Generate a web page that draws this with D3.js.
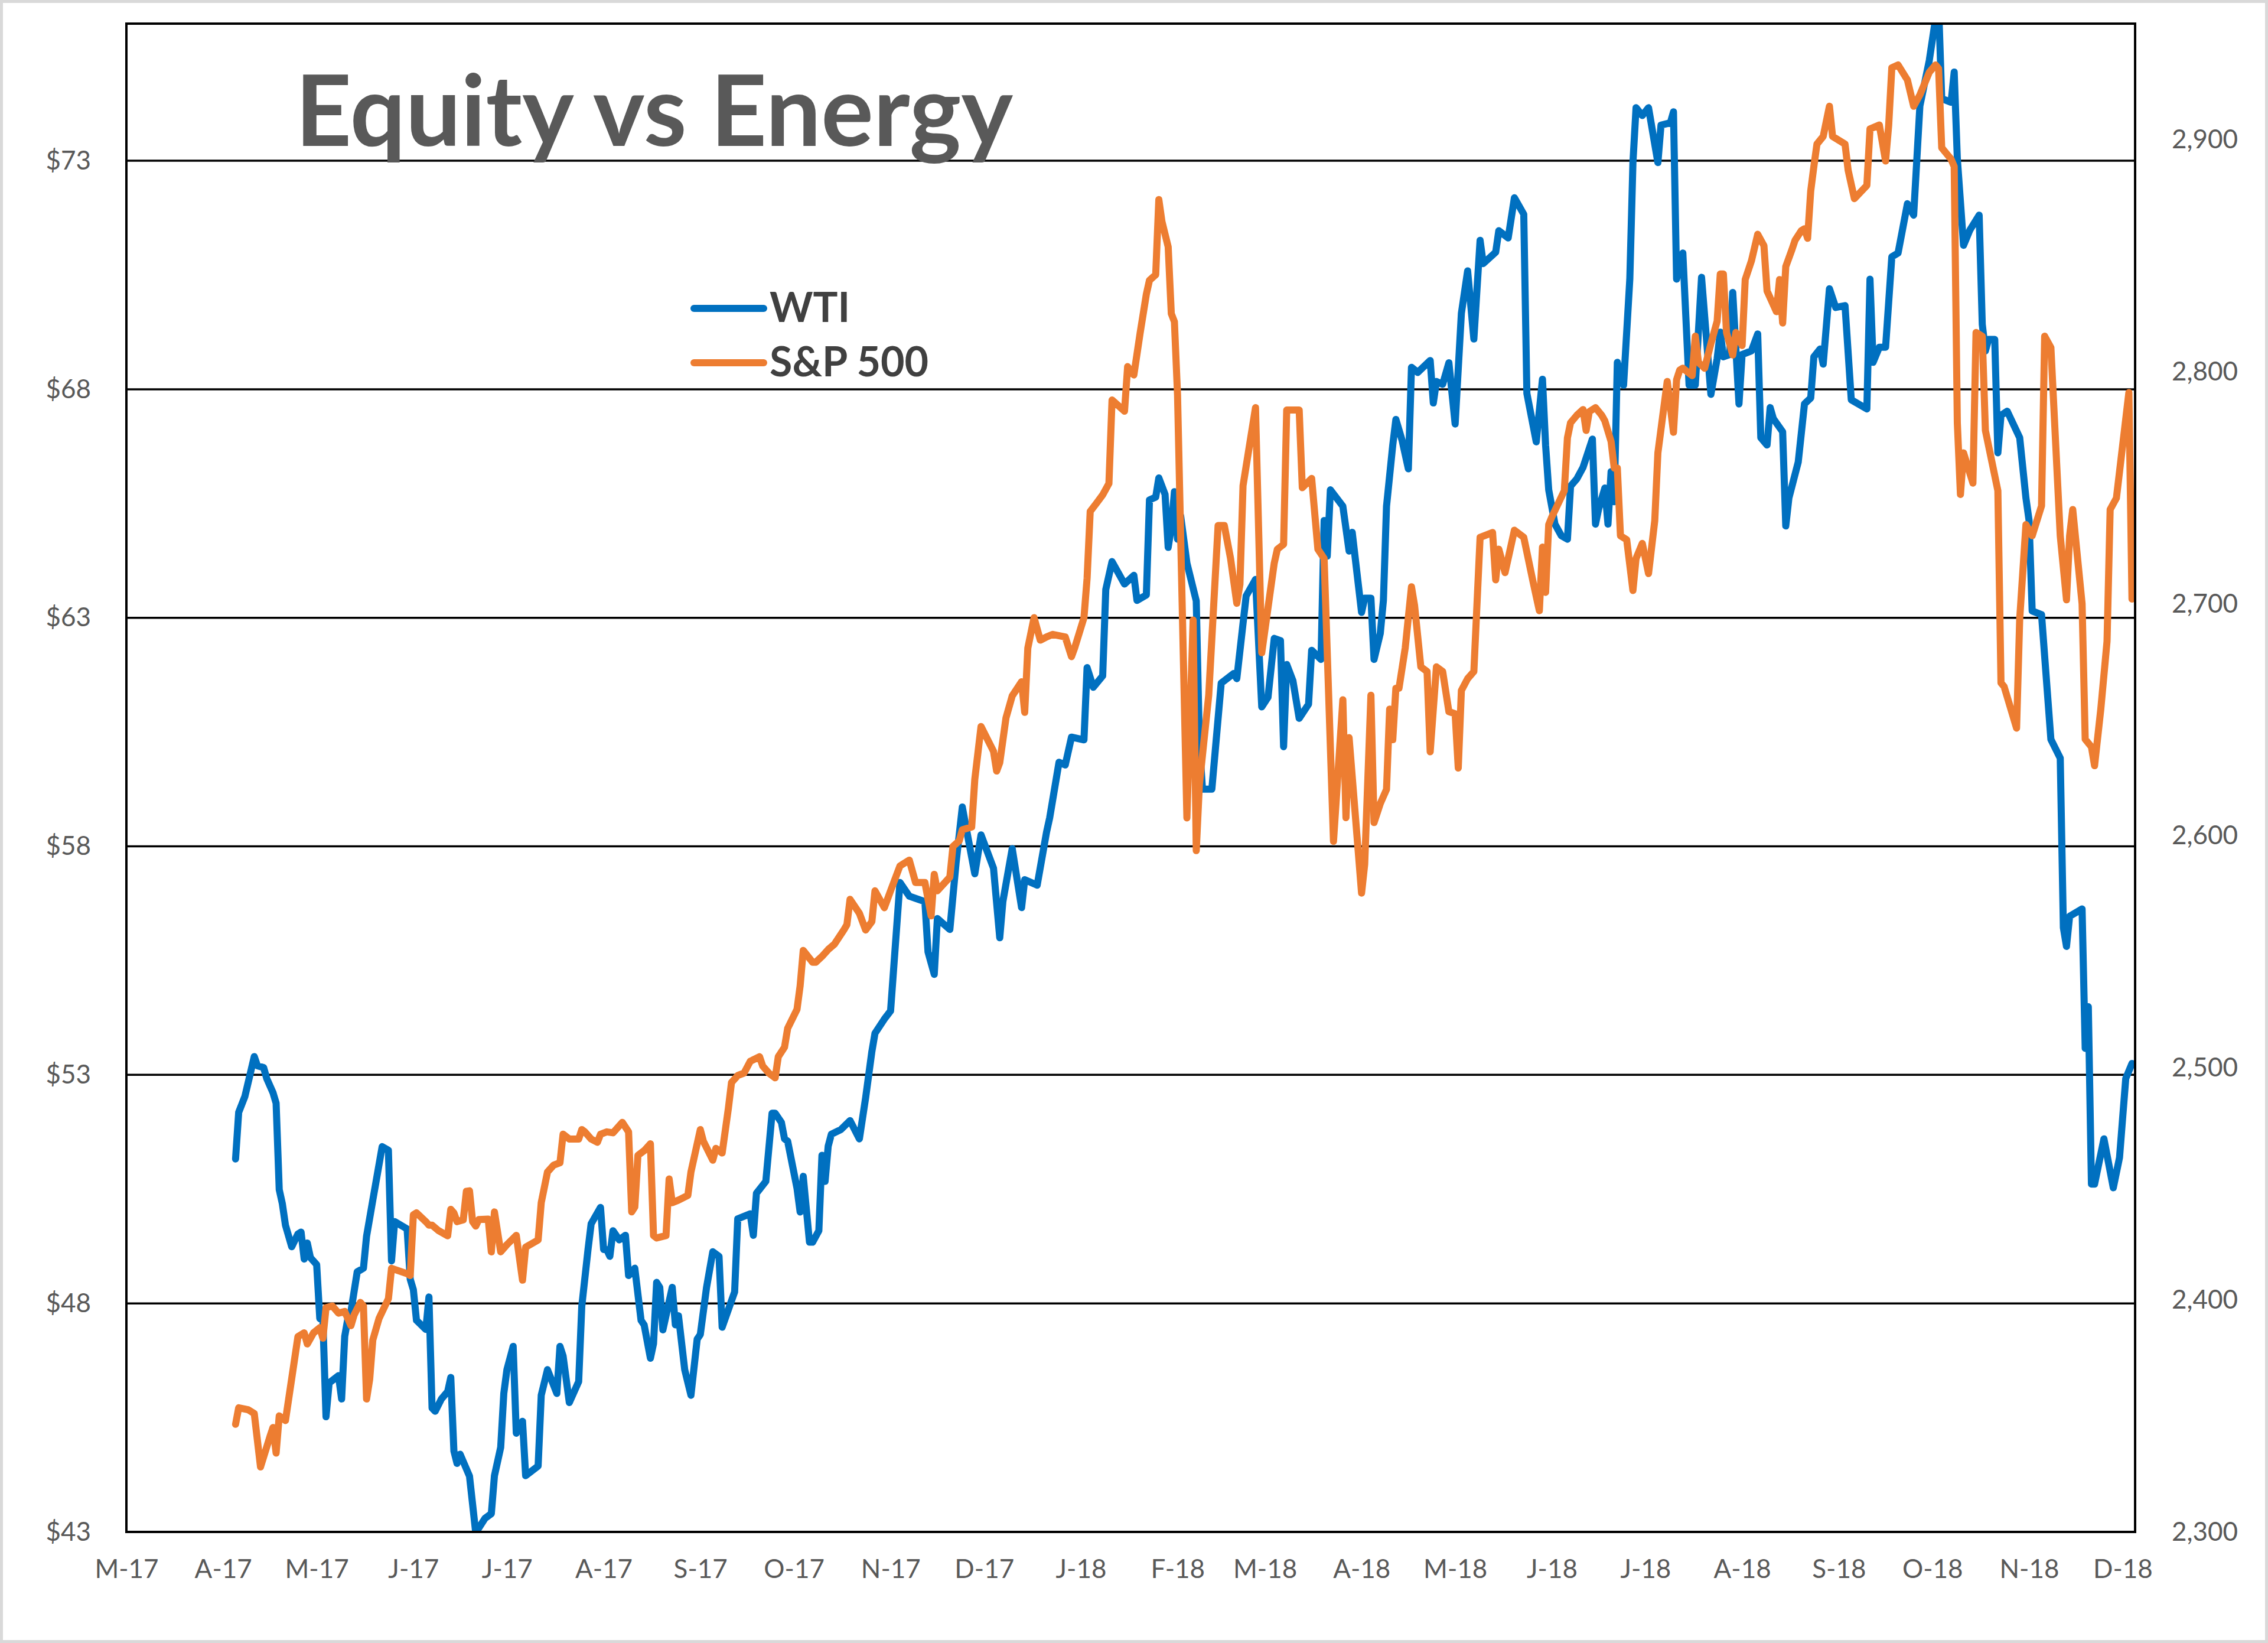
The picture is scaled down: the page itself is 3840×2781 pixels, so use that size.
<!DOCTYPE html>
<html lang="en">
<head>
  <meta charset="UTF-8" />
  <title>Equity vs Energy</title>
  <style>
    body { margin: 0; background: #fff; }
    svg { display: block; }
  </style>
</head>
<body>
  <svg id="chart"></svg>

  <script src="https://d3js.org/d3.v7.min.js"></script>
  <script>
    // WTI crude, $/bbl
    const wtiData = [
      ["2017-04-05",51.16],["2017-04-06",52.18],["2017-04-08",52.53],["2017-04-11",53.40],["2017-04-12",53.20],
      ["2017-04-14",53.16],["2017-04-15",52.92],["2017-04-17",52.61],["2017-04-18",52.38],["2017-04-19",50.49],
      ["2017-04-20",50.18],["2017-04-21",49.71],["2017-04-23",49.24],["2017-04-25",49.52],["2017-04-26",49.56],
      ["2017-04-27",48.97],["2017-04-28",49.32],["2017-04-29",49.00],["2017-05-01",48.85],["2017-05-02",47.67],
      ["2017-05-03",47.63],["2017-05-04",45.52],["2017-05-05",46.26],["2017-05-08",46.42],["2017-05-09",45.91],
      ["2017-05-10",47.28],["2017-05-11",47.67],["2017-05-12",47.83],["2017-05-14",48.69],["2017-05-16",48.77],
      ["2017-05-17",49.47],["2017-05-19",50.26],["2017-05-20",50.65],["2017-05-22",51.43],["2017-05-24",51.35],
      ["2017-05-25",48.93],["2017-05-26",49.79],["2017-05-30",49.63],["2017-05-31",48.53],["2017-06-01",48.30],
      ["2017-06-02",47.63],["2017-06-05",47.43],["2017-06-06",48.14],["2017-06-07",45.71],["2017-06-08",45.64],
      ["2017-06-10",45.91],["2017-06-12",46.07],["2017-06-13",46.38],["2017-06-14",44.77],["2017-06-15",44.50],
      ["2017-06-16",44.70],["2017-06-19",44.22],["2017-06-21",42.98],["2017-06-24",43.30],["2017-06-26",43.40],
      ["2017-06-27",44.23],["2017-06-29",44.85],["2017-06-30",46.03],["2017-07-01",46.55],["2017-07-03",47.06],
      ["2017-07-04",45.16],["2017-07-06",45.42],["2017-07-07",44.23],["2017-07-11",44.44],["2017-07-12",45.99],
      ["2017-07-14",46.55],["2017-07-17",46.03],["2017-07-18",47.06],["2017-07-19",46.85],["2017-07-21",45.83],
      ["2017-07-24",46.29],["2017-07-25",47.94],["2017-07-27",49.18],["2017-07-28",49.74],["2017-07-31",50.10],
      ["2017-08-01",49.18],["2017-08-02",49.18],["2017-08-03",49.03],["2017-08-04",49.59],["2017-08-06",49.39],
      ["2017-08-08",49.49],["2017-08-09",48.61],["2017-08-11",48.77],["2017-08-13",47.63],["2017-08-14",47.53],
      ["2017-08-16",46.80],["2017-08-17",47.12],["2017-08-18",48.46],["2017-08-19",48.35],["2017-08-20",47.42],
      ["2017-08-23",48.35],["2017-08-24",47.53],["2017-08-25",47.73],["2017-08-27",46.55],["2017-08-29",45.99],
      ["2017-08-31",47.22],["2017-09-01",47.32],["2017-09-03",48.35],["2017-09-05",49.13],["2017-09-07",49.03],
      ["2017-09-08",47.48],["2017-09-12",48.25],["2017-09-13",49.85],["2017-09-17",49.96],["2017-09-18",49.49],
      ["2017-09-19",50.41],["2017-09-22",50.67],["2017-09-24",52.16],["2017-09-25",52.16],["2017-09-27",51.96],
      ["2017-09-28",51.60],["2017-09-29",51.55],["2017-10-02",50.52],["2017-10-03",50.00],["2017-10-04",50.78],
      ["2017-10-06",49.34],["2017-10-07",49.34],["2017-10-09",49.59],["2017-10-10",51.24],["2017-10-11",50.67],
      ["2017-10-12",51.44],["2017-10-13",51.70],["2017-10-16",51.80],["2017-10-19",52.00],["2017-10-22",51.60],
      ["2017-10-24",52.50],["2017-10-26",53.51],["2017-10-27",53.91],["2017-10-30",54.22],["2017-11-01",54.40],
      ["2017-11-04",57.21],["2017-11-07",56.91],["2017-11-12",56.79],["2017-11-13",55.69],["2017-11-15",55.20],
      ["2017-11-16",56.42],["2017-11-20",56.18],["2017-11-22",57.64],["2017-11-24",58.86],["2017-11-25",58.49],
      ["2017-11-28",57.40],["2017-11-30",58.25],["2017-12-04",57.52],["2017-12-06",56.00],["2017-12-07",56.79],
      ["2017-12-10",57.95],["2017-12-13",56.66],["2017-12-14",57.27],["2017-12-18",57.15],["2017-12-21",58.31],
      ["2017-12-22",58.62],["2017-12-25",59.84],["2017-12-27",59.78],["2017-12-29",60.39],["2018-01-02",60.33],
      ["2018-01-03",61.91],["2018-01-05",61.48],["2018-01-08",61.73],["2018-01-09",63.62],["2018-01-11",64.23],
      ["2018-01-15",63.74],["2018-01-18",63.93],["2018-01-19",63.38],["2018-01-22",63.50],["2018-01-23",65.58],
      ["2018-01-25",65.64],["2018-01-26",66.06],["2018-01-28",65.70],["2018-01-29",64.54],["2018-01-30",64.97],
      ["2018-01-31",65.76],["2018-02-01",64.72],["2018-02-02",65.23],["2018-02-04",64.20],["2018-02-07",63.37],
      ["2018-02-08",60.28],["2018-02-09",59.25],["2018-02-12",59.25],["2018-02-15",61.57],["2018-02-19",61.78],
      ["2018-02-20",61.67],["2018-02-23",63.48],["2018-02-26",63.84],["2018-02-28",61.05],["2018-03-02",61.26],
      ["2018-03-04",62.55],["2018-03-06",62.50],["2018-03-07",60.18],["2018-03-08",61.98],["2018-03-10",61.62],
      ["2018-03-12",60.80],["2018-03-15",61.11],["2018-03-16",62.29],["2018-03-19",62.09],["2018-03-20",65.13],
      ["2018-03-21",64.35],["2018-03-22",65.80],["2018-03-26",65.44],["2018-03-28",64.46],["2018-03-29",64.87],
      ["2018-04-01",63.12],["2018-04-02",63.43],["2018-04-04",63.43],["2018-04-05",62.09],["2018-04-07",62.66],
      ["2018-04-08",63.38],["2018-04-09",65.44],["2018-04-11",66.78],["2018-04-12",67.34],["2018-04-14",66.88],
      ["2018-04-16",66.26],["2018-04-17",68.48],["2018-04-19",68.37],["2018-04-23",68.63],["2018-04-24",67.70],
      ["2018-04-25",68.17],["2018-04-27",68.11],["2018-04-29",68.58],["2018-05-01",67.24],["2018-05-03",69.66],
      ["2018-05-05",70.59],["2018-05-07",69.10],["2018-05-09",71.26],["2018-05-10",70.75],["2018-05-14",71.00],
      ["2018-05-15",71.47],["2018-05-18",71.31],["2018-05-20",72.19],["2018-05-23",71.83],["2018-05-24",67.91],
      ["2018-05-27",66.85],["2018-05-29",68.22],["2018-05-30",66.78],["2018-05-31",65.80],["2018-06-02",65.05],
      ["2018-06-04",64.80],["2018-06-06",64.72],["2018-06-07",65.88],["2018-06-09",66.04],["2018-06-11",66.29],
      ["2018-06-14",66.91],["2018-06-15",65.05],["2018-06-16",65.38],["2018-06-18",65.84],["2018-06-19",65.05],
      ["2018-06-20",66.20],["2018-06-21",65.54],["2018-06-22",68.59],["2018-06-24",68.09],["2018-06-26",70.41],
      ["2018-06-27",72.96],["2018-06-28",74.16],["2018-06-30",73.99],["2018-07-02",74.16],["2018-07-05",72.96],
      ["2018-07-06",73.78],["2018-07-09",73.83],["2018-07-10",74.07],["2018-07-11",70.41],["2018-07-13",70.98],
      ["2018-07-15",68.09],["2018-07-17",68.09],["2018-07-19",70.45],["2018-07-22",67.89],["2018-07-24",68.67],
      ["2018-07-25",69.25],["2018-07-26",68.71],["2018-07-28",68.76],["2018-07-29",70.12],["2018-07-31",67.68],
      ["2018-08-01",68.76],["2018-08-04",68.84],["2018-08-06",69.21],["2018-08-07",66.94],["2018-08-09",66.78],
      ["2018-08-10",67.60],["2018-08-11",67.36],["2018-08-14",67.07],["2018-08-15",65.01],["2018-08-16",65.62],
      ["2018-08-19",66.41],["2018-08-21",67.68],["2018-08-23",67.81],["2018-08-24",68.71],["2018-08-26",68.88],
      ["2018-08-27",68.55],["2018-08-29",70.20],["2018-08-31",69.79],["2018-09-03",69.83],["2018-09-05",67.77],
      ["2018-09-10",67.57],["2018-09-11",70.41],["2018-09-12",68.59],["2018-09-14",68.92],["2018-09-16",68.92],
      ["2018-09-17",69.91],["2018-09-18",70.90],["2018-09-20",70.98],["2018-09-23",72.06],["2018-09-25",71.81],
      ["2018-09-27",74.20],["2018-09-30",75.19],["2018-10-02",76.10],["2018-10-03",76.40],["2018-10-04",74.36],
      ["2018-10-07",74.28],["2018-10-08",74.94],["2018-10-09",73.05],["2018-10-11",71.15],["2018-10-13",71.48],
      ["2018-10-16",71.81],["2018-10-17",69.42],["2018-10-18",68.84],["2018-10-19",69.09],["2018-10-21",69.09],
      ["2018-10-22",66.61],["2018-10-23",67.43],["2018-10-25",67.52],["2018-10-29",66.94],["2018-10-31",65.62],
      ["2018-11-01",65.13],["2018-11-02",63.15],["2018-11-05",63.07],["2018-11-08",60.34],["2018-11-11",59.93],
      ["2018-11-12",56.22],["2018-11-13",55.81],["2018-11-14",56.47],["2018-11-18",56.63],["2018-11-19",53.58],
      ["2018-11-20",54.49],["2018-11-21",50.61],["2018-11-22",50.61],["2018-11-25",51.60],["2018-11-28",50.53],
      ["2018-11-30",51.19],["2018-12-02",52.92],["2018-12-04",53.25]
    ];

    // S&P 500 index level
    const spxData = [
      ["2017-04-05",2346.4],["2017-04-06",2353.5],["2017-04-09",2352.7],["2017-04-11",2351.0],["2017-04-13",2328.0],
      ["2017-04-16",2341.0],["2017-04-17",2345.0],["2017-04-18",2334.0],["2017-04-19",2350.0],["2017-04-21",2348.0],
      ["2017-04-25",2384.2],["2017-04-27",2385.8],["2017-04-28",2381.0],["2017-04-30",2385.8],["2017-05-02",2388.0],
      ["2017-05-03",2383.5],["2017-05-04",2396.6],["2017-05-06",2397.4],["2017-05-08",2394.3],["2017-05-10",2395.0],
      ["2017-05-12",2388.9],["2017-05-13",2393.5],["2017-05-15",2398.9],["2017-05-16",2397.4],["2017-05-17",2357.3],
      ["2017-05-18",2365.8],["2017-05-19",2382.7],["2017-05-21",2392.0],["2017-05-24",2400.5],["2017-05-25",2413.6],
      ["2017-05-30",2411.3],["2017-05-31",2410.5],["2017-06-01",2436.7],["2017-06-02",2437.5],["2017-06-05",2433.7],
      ["2017-06-06",2432.2],["2017-06-07",2432.2],["2017-06-09",2429.9],["2017-06-12",2427.6],["2017-06-13",2439.0],
      ["2017-06-14",2437.5],["2017-06-15",2433.7],["2017-06-17",2434.5],["2017-06-18",2446.8],["2017-06-19",2447.0],
      ["2017-06-20",2433.7],["2017-06-21",2431.8],["2017-06-22",2434.6],["2017-06-25",2434.8],["2017-06-26",2420.7],
      ["2017-06-27",2437.9],["2017-06-29",2420.7],["2017-07-01",2423.8],["2017-07-04",2427.8],["2017-07-06",2408.5],
      ["2017-07-07",2422.7],["2017-07-11",2425.8],["2017-07-12",2441.9],["2017-07-14",2455.1],["2017-07-16",2458.1],
      ["2017-07-18",2459.1],["2017-07-19",2471.4],["2017-07-21",2469.3],["2017-07-24",2469.3],["2017-07-25",2473.4],
      ["2017-07-26",2472.4],["2017-07-28",2469.3],["2017-07-30",2467.9],["2017-07-31",2471.4],["2017-08-02",2472.4],
      ["2017-08-04",2472.0],["2017-08-07",2476.5],["2017-08-09",2472.4],["2017-08-10",2437.9],["2017-08-11",2440.0],
      ["2017-08-12",2462.3],["2017-08-14",2464.3],["2017-08-16",2467.3],["2017-08-17",2427.7],["2017-08-18",2426.7],
      ["2017-08-21",2427.7],["2017-08-22",2452.1],["2017-08-23",2441.9],["2017-08-25",2443.0],["2017-08-28",2445.0],
      ["2017-08-29",2455.1],["2017-09-01",2473.4],["2017-09-02",2468.3],["2017-09-05",2460.2],["2017-09-06",2465.3],
      ["2017-09-08",2463.3],["2017-09-10",2482.6],["2017-09-11",2493.7],["2017-09-13",2496.7],["2017-09-15",2497.7],
      ["2017-09-17",2502.8],["2017-09-20",2504.8],["2017-09-21",2500.8],["2017-09-23",2497.7],["2017-09-25",2495.7],
      ["2017-09-26",2504.8],["2017-09-28",2508.9],["2017-09-29",2517.0],["2017-10-02",2525.2],["2017-10-03",2535.3],
      ["2017-10-04",2550.6],["2017-10-07",2545.5],["2017-10-08",2545.5],["2017-10-10",2548.0],["2017-10-12",2551.0],
      ["2017-10-14",2553.3],["2017-10-17",2559.4],["2017-10-18",2561.7],["2017-10-19",2572.6],["2017-10-22",2566.6],
      ["2017-10-24",2559.4],["2017-10-26",2563.0],["2017-10-27",2576.3],["2017-10-30",2569.0],["2017-11-01",2576.3],
      ["2017-11-04",2587.0],["2017-11-07",2589.5],["2017-11-09",2579.9],["2017-11-12",2579.9],["2017-11-14",2565.5],
      ["2017-11-15",2583.4],["2017-11-16",2576.3],["2017-11-20",2582.2],["2017-11-21",2595.4],["2017-11-23",2597.8],
      ["2017-11-24",2602.6],["2017-11-27",2603.8],["2017-11-28",2624.3],["2017-11-30",2647.1],["2017-12-04",2636.4],
      ["2017-12-05",2627.9],["2017-12-06",2631.5],["2017-12-08",2650.8],["2017-12-10",2660.3],["2017-12-13",2666.4],
      ["2017-12-14",2653.2],["2017-12-15",2680.9],["2017-12-17",2694.0],["2017-12-19",2684.3],["2017-12-21",2685.7],
      ["2017-12-23",2686.8],["2017-12-27",2685.7],["2017-12-29",2677.2],["2017-12-30",2680.9],["2018-01-02",2694.0],
      ["2018-01-03",2710.9],["2018-01-04",2739.8],["2018-01-06",2743.3],["2018-01-08",2746.9],["2018-01-10",2751.8],
      ["2018-01-11",2787.8],["2018-01-13",2785.4],["2018-01-15",2783.0],["2018-01-16",2802.2],["2018-01-18",2798.6],
      ["2018-01-20",2816.6],["2018-01-22",2833.4],["2018-01-23",2839.4],["2018-01-25",2841.8],["2018-01-26",2874.2],
      ["2018-01-27",2864.7],["2018-01-29",2853.8],["2018-01-30",2825.0],["2018-01-31",2821.5],["2018-02-01",2790.0],
      ["2018-02-04",2607.7],["2018-02-06",2693.0],["2018-02-07",2593.6],["2018-02-08",2622.0],["2018-02-11",2660.6],
      ["2018-02-14",2733.7],["2018-02-16",2733.7],["2018-02-18",2719.5],["2018-02-20",2700.2],["2018-02-21",2708.3],
      ["2018-02-22",2750.9],["2018-02-26",2784.5],["2018-02-28",2678.9],["2018-03-04",2717.5],["2018-03-05",2723.5],
      ["2018-03-07",2725.6],["2018-03-08",2783.5],["2018-03-12",2783.5],["2018-03-13",2750.0],["2018-03-16",2754.0],
      ["2018-03-18",2723.5],["2018-03-20",2719.5],["2018-03-23",2597.6],["2018-03-26",2658.6],["2018-03-27",2607.8],
      ["2018-03-28",2642.3],["2018-04-01",2575.3],["2018-04-02",2587.7],["2018-04-04",2660.6],["2018-04-05",2605.7],
      ["2018-04-07",2613.9],["2018-04-09",2620.0],["2018-04-10",2654.6],["2018-04-11",2641.4],["2018-04-12",2663.6],
      ["2018-04-13",2663.6],["2018-04-15",2681.0],["2018-04-17",2707.3],["2018-04-18",2699.2],["2018-04-20",2672.8],
      ["2018-04-22",2670.8],["2018-04-23",2636.2],["2018-04-25",2672.8],["2018-04-27",2670.8],["2018-04-29",2653.5],
      ["2018-05-01",2652.6],["2018-05-02",2629.2],["2018-05-03",2662.6],["2018-05-05",2667.7],["2018-05-07",2670.8],
      ["2018-05-09",2728.6],["2018-05-13",2730.7],["2018-05-14",2710.3],["2018-05-15",2723.5],["2018-05-17",2713.4],
      ["2018-05-20",2731.7],["2018-05-23",2728.6],["2018-05-26",2709.3],["2018-05-28",2697.0],["2018-05-29",2724.4],
      ["2018-05-30",2704.9],["2018-05-31",2734.1],["2018-06-01",2737.4],["2018-06-05",2748.7],["2018-06-06",2771.5],
      ["2018-06-07",2778.0],["2018-06-09",2781.2],["2018-06-11",2783.7],["2018-06-12",2774.7],["2018-06-13",2782.8],
      ["2018-06-15",2784.5],["2018-06-17",2781.2],["2018-06-18",2778.8],["2018-06-20",2769.9],["2018-06-21",2758.5],
      ["2018-06-22",2758.5],["2018-06-23",2729.3],["2018-06-25",2727.6],["2018-06-27",2705.7],["2018-06-28",2719.5],
      ["2018-06-30",2726.0],["2018-07-02",2713.0],["2018-07-04",2735.8],["2018-07-05",2765.0],["2018-07-08",2795.8],
      ["2018-07-10",2773.9],["2018-07-11",2796.6],["2018-07-12",2800.7],["2018-07-13",2801.5],["2018-07-16",2798.3],
      ["2018-07-17",2815.3],["2018-07-18",2804.0],["2018-07-20",2801.5],["2018-07-22",2812.1],["2018-07-24",2821.8],
      ["2018-07-25",2842.1],["2018-07-26",2842.1],["2018-07-27",2816.9],["2018-07-29",2807.2],["2018-07-30",2816.9],
      ["2018-08-01",2811.3],["2018-08-02",2839.7],["2018-08-04",2847.8],["2018-08-06",2859.2],["2018-08-08",2854.3],
      ["2018-08-09",2834.8],["2018-08-12",2825.9],["2018-08-13",2839.7],["2018-08-14",2821.0],["2018-08-15",2845.3],
      ["2018-08-17",2852.7],["2018-08-18",2856.7],["2018-08-20",2860.8],["2018-08-21",2861.6],["2018-08-22",2857.5],
      ["2018-08-23",2877.9],["2018-08-24",2888.4],["2018-08-25",2898.1],["2018-08-27",2901.4],["2018-08-29",2914.4],
      ["2018-08-30",2901.4],["2018-09-03",2898.1],["2018-09-04",2886.8],["2018-09-06",2874.6],["2018-09-10",2880.3],
      ["2018-09-11",2904.6],["2018-09-14",2906.3],["2018-09-16",2890.8],["2018-09-17",2906.3],["2018-09-18",2931.0],
      ["2018-09-20",2932.2],["2018-09-23",2925.7],["2018-09-25",2914.4],["2018-09-27",2919.3],["2018-09-30",2929.0],
      ["2018-10-02",2932.2],["2018-10-03",2930.6],["2018-10-04",2896.5],["2018-10-07",2891.6],["2018-10-08",2888.4],
      ["2018-10-09",2778.0],["2018-10-10",2747.1],["2018-10-11",2765.0],["2018-10-14",2752.0],["2018-10-15",2816.9],
      ["2018-10-17",2815.3],["2018-10-18",2774.7],["2018-10-20",2761.7],["2018-10-22",2748.7],["2018-10-23",2665.9],
      ["2018-10-24",2664.3],["2018-10-28",2646.4],["2018-10-29",2693.5],["2018-10-31",2734.1],["2018-11-02",2729.3],
      ["2018-11-05",2742.2],["2018-11-06",2815.3],["2018-11-08",2810.4],["2018-11-11",2729.3],["2018-11-13",2701.7],
      ["2018-11-14",2729.3],["2018-11-15",2740.6],["2018-11-18",2700.0],["2018-11-19",2641.6],["2018-11-21",2638.3],
      ["2018-11-22",2630.2],["2018-11-24",2654.6],["2018-11-26",2683.8],["2018-11-27",2740.6],["2018-11-29",2745.5],
      ["2018-12-03",2791.0],["2018-12-04",2702.0]
    ];

    const leftTicks = [43, 48, 53, 58, 63, 68, 73];
    const rightTicks = [2300, 2400, 2500, 2600, 2700, 2800, 2900];
    const seriesNames = ["WTI", "S&P 500"];
    const seriesColors = ["#0070C0", "#ED7D31"];

    const W = 3840, H = 2781;
    const plot = { left: 214, right: 3615, top: 40, bottom: 2593 };
    const labelColor = "#595959";
    const font = "Lato, 'Open Sans', sans-serif";

    const parse = d3.timeParse("%Y-%m-%d");
    const wti = wtiData.map(([d, v]) => ({ date: parse(d), v }));
    const spx = spxData.map(([d, v]) => ({ date: parse(d), v }));

    const svg = d3.select("#chart").attr("width", W).attr("height", H);

    svg.append("rect").attr("width", W).attr("height", H).attr("fill", "#fff");
    svg.append("rect")
      .attr("x", 2.5).attr("y", 2.5).attr("width", W - 5).attr("height", H - 5)
      .attr("fill", "none").attr("stroke", "#d9d9d9").attr("stroke-width", 5);

    const x = d3.scaleTime()
      .domain([new Date(2017, 2, 1), new Date(2018, 11, 5)])
      .range([plot.left, plot.right]);
    const yL = d3.scaleLinear().domain([43, 76]).range([plot.bottom, plot.top]);
    const yR = d3.scaleLinear().domain([2300, 2950]).range([plot.bottom, plot.top]);

    // horizontal gridlines (left axis)
    svg.append("g").selectAll("line")
      .data(leftTicks.slice(1))
      .join("line")
      .attr("x1", plot.left).attr("x2", plot.right)
      .attr("y1", d => yL(d)).attr("y2", d => yL(d))
      .attr("stroke", "#000").attr("stroke-width", 3.5);

    svg.append("defs").append("clipPath").attr("id", "clip")
      .append("rect")
      .attr("x", plot.left).attr("y", plot.top)
      .attr("width", plot.right - plot.left).attr("height", plot.bottom - plot.top);

    const lineL = d3.line().x(d => x(d.date)).y(d => yL(d.v));
    const lineR = d3.line().x(d => x(d.date)).y(d => yR(d.v));

    const lines = svg.append("g").attr("clip-path", "url(#clip)");
    lines.append("path").datum(wti)
      .attr("d", lineL).attr("fill", "none")
      .attr("stroke", seriesColors[0]).attr("stroke-width", 12)
      .attr("stroke-linejoin", "round").attr("stroke-linecap", "round");
    lines.append("path").datum(spx)
      .attr("d", lineR).attr("fill", "none")
      .attr("stroke", seriesColors[1]).attr("stroke-width", 12)
      .attr("stroke-linejoin", "round").attr("stroke-linecap", "round");

    // plot frame
    svg.append("rect")
      .attr("x", plot.left).attr("y", plot.top)
      .attr("width", plot.right - plot.left).attr("height", plot.bottom - plot.top)
      .attr("fill", "none").attr("stroke", "#000").attr("stroke-width", 4);

    // axes
    const months = d3.timeMonth.range(new Date(2017, 2, 1), new Date(2018, 11, 2));
    const fmtMonth = d => d3.timeFormat("%b")(d)[0] + "-" + d3.timeFormat("%y")(d);

    const styleAxis = g => {
      g.select(".domain").remove();
      g.selectAll("text")
        .attr("fill", labelColor)
        .style("font-family", font)
        .style("font-size", "44px");
    };

    svg.append("g")
      .attr("transform", `translate(0,${plot.bottom})`)
      .call(d3.axisBottom(x).tickValues(months).tickFormat(fmtMonth).tickSize(0).tickPadding(47))
      .call(styleAxis);

    svg.append("g")
      .attr("transform", `translate(${plot.left},0)`)
      .call(d3.axisLeft(yL).tickValues(leftTicks).tickFormat(d => "$" + d).tickSize(0).tickPadding(60))
      .call(styleAxis);

    svg.append("g")
      .attr("transform", `translate(${plot.right},0)`)
      .call(d3.axisRight(yR).tickValues(rightTicks).tickFormat(d3.format(",")).tickSize(0).tickPadding(62))
      .call(styleAxis);

    // title
    svg.append("text")
      .attr("x", 500).attr("y", 247)
      .attr("fill", labelColor)
      .style("font-family", font)
      .style("font-weight", 700)
      .style("font-size", "166px")
      .text("Equity vs Energy");

    // legend
    const legend = svg.append("g").attr("transform", "translate(1175,522)");
    seriesNames.forEach((name, i) => {
      const row = legend.append("g").attr("transform", `translate(0,${i * 92})`);
      row.append("line")
        .attr("x1", 0).attr("x2", 118).attr("y1", 0).attr("y2", 0)
        .attr("stroke", seriesColors[i]).attr("stroke-width", 12)
        .attr("stroke-linecap", "round");
      row.append("text")
        .attr("x", 128).attr("y", 23)
        .attr("fill", "#404040")
        .style("font-family", font)
        .style("font-weight", 700)
        .style("font-size", "70px")
        .text(name);
    });
  </script>
</body>
</html>
